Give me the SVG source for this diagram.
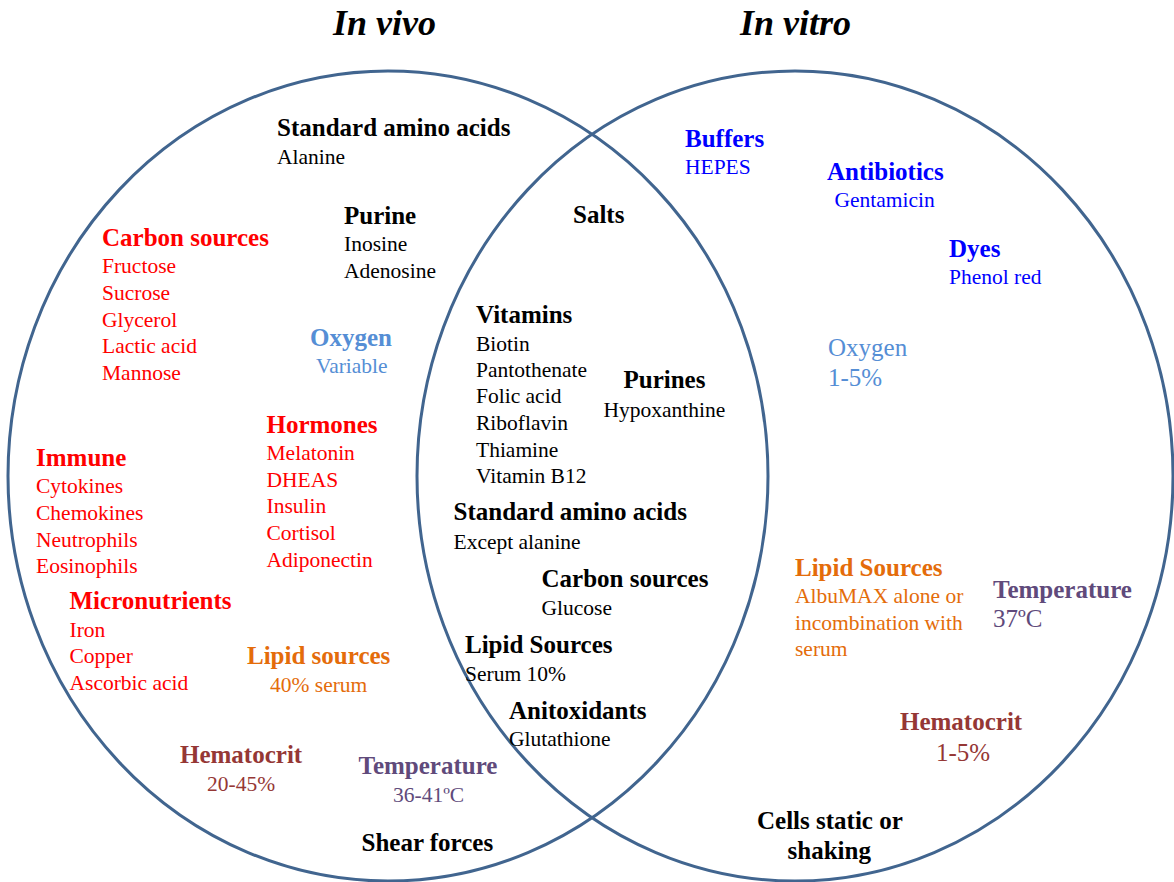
<svg xmlns="http://www.w3.org/2000/svg" width="1174" height="882" viewBox="0 0 1174 882">
<style>
text{font-family:"Liberation Serif","Times New Roman",serif;font-size:21.5px;fill:#000}
.h{font-weight:bold;font-size:25px}
.t{font-weight:bold;font-style:italic;font-size:36px}
.big{font-size:25px}
.red{fill:#ff0000}
.blue{fill:#0000ff}
.lb{fill:#558ed5}
.or{fill:#e46c0a}
.br{fill:#953735}
.pu{fill:#604a7b}
.ring{fill:none;stroke:#41658f;stroke-width:3}
</style>
<rect width="1174" height="882" fill="#fff"/>
<g id="circles">
<ellipse class="ring" cx="388" cy="476" rx="380" ry="405"/>
<ellipse class="ring" cx="795" cy="476" rx="378" ry="405"/>
</g>
<g id="connectors"/>
<g id="title-invivo"><text class="t" x="333" y="35">In vivo</text></g>
<g id="title-invitro"><text class="t" x="740" y="35">In vitro</text></g>

<g id="std-amino-vivo"><text class="h" x="277" y="136">Standard amino acids</text><text x="277" y="164">Alanine</text></g>
<g id="purine"><text class="h" x="344" y="224">Purine</text><text x="344" y="251">Inosine</text><text x="344" y="278">Adenosine</text></g>
<g id="carbon-vivo"><text class="h red" x="102" y="246">Carbon sources</text>
<text class="red" x="102" y="273">Fructose</text><text class="red" x="102" y="300">Sucrose</text><text class="red" x="102" y="326.5">Glycerol</text><text class="red" x="102" y="353">Lactic acid</text><text class="red" x="102" y="379.5">Mannose</text></g>
<g id="oxygen-vivo"><text class="h lb" x="310" y="346">Oxygen</text><text class="lb" x="316" y="372.5">Variable</text></g>
<g id="hormones"><text class="h red" x="266.5" y="433">Hormones</text>
<text class="red" x="266.5" y="460">Melatonin</text><text class="red" x="266.5" y="486.5">DHEAS</text><text class="red" x="266.5" y="513">Insulin</text><text class="red" x="266.5" y="540">Cortisol</text><text class="red" x="266.5" y="566.5">Adiponectin</text></g>
<g id="immune"><text class="h red" x="36" y="466">Immune</text>
<text class="red" x="36" y="493">Cytokines</text><text class="red" x="36" y="520">Chemokines</text><text class="red" x="36" y="546.5">Neutrophils</text><text class="red" x="36" y="572.5">Eosinophils</text></g>
<g id="micronutrients"><text class="h red" x="69.5" y="609">Micronutrients</text>
<text class="red" x="69.5" y="636.5">Iron</text><text class="red" x="69.5" y="663">Copper</text><text class="red" x="69.5" y="690">Ascorbic acid</text></g>
<g id="lipid-vivo"><text class="h or" x="247" y="664">Lipid sources</text><text class="or" x="270" y="691.5">40% serum</text></g>
<g id="hematocrit-vivo"><text class="h br" x="180" y="763">Hematocrit</text><text class="br" x="207" y="790.5">20-45%</text></g>
<g id="temperature-vivo"><text class="h pu" x="358.5" y="774">Temperature</text><text class="pu" x="393" y="801.5">36-41ºC</text></g>
<g id="shear"><text class="h" x="361.5" y="850.5">Shear forces</text></g>

<g id="salts"><text class="h" x="573" y="223">Salts</text></g>
<g id="vitamins"><text class="h" x="476" y="323">Vitamins</text>
<text x="476" y="350.5">Biotin</text><text x="476" y="376.5">Pantothenate</text><text x="476" y="403">Folic acid</text><text x="476" y="430">Riboflavin</text><text x="476" y="456.5">Thiamine</text><text x="476" y="483">Vitamin B12</text></g>
<g id="purines"><text class="h" x="623.5" y="388">Purines</text><text x="603.5" y="416.5">Hypoxanthine</text></g>
<g id="std-amino-both"><text class="h" x="453.5" y="520">Standard amino acids</text><text x="453.5" y="549">Except alanine</text></g>
<g id="carbon-both"><text class="h" x="541.5" y="586.5">Carbon sources</text><text x="541.5" y="615">Glucose</text></g>
<g id="lipid-both"><text class="h" x="465" y="652.5">Lipid Sources</text><text x="465" y="680.5">Serum 10%</text></g>
<g id="antioxidants"><text class="h" x="509" y="719">Anitoxidants</text><text x="509" y="746">Glutathione</text></g>

<g id="buffers"><text class="h blue" x="685" y="147">Buffers</text><text class="blue" x="685" y="174">HEPES</text></g>
<g id="antibiotics"><text class="h blue" x="827" y="180">Antibiotics</text><text class="blue" x="834.5" y="206.5">Gentamicin</text></g>
<g id="dyes"><text class="h blue" x="949" y="256.5">Dyes</text><text class="blue" x="949" y="284">Phenol red</text></g>
<g id="oxygen-vitro"><text class="big lb" x="828" y="356">Oxygen</text><text class="big lb" x="828" y="386">1-5%</text></g>
<g id="lipid-vitro"><text class="h or" x="795" y="576">Lipid Sources</text>
<text class="or" x="795" y="603">AlbuMAX alone or</text><text class="or" x="795" y="630">incombination with</text><text class="or" x="795" y="656">serum</text></g>
<g id="temperature-vitro"><text class="h pu" x="993" y="597.5">Temperature</text><text class="big pu" x="993" y="626.5">37ºC</text></g>
<g id="hematocrit-vitro"><text class="h br" x="900" y="730">Hematocrit</text><text class="big br" x="936" y="760.5">1-5%</text></g>
<g id="cells"><text class="h" x="757" y="829">Cells static or</text><text class="h" x="787.5" y="859">shaking</text></g>
</svg>
